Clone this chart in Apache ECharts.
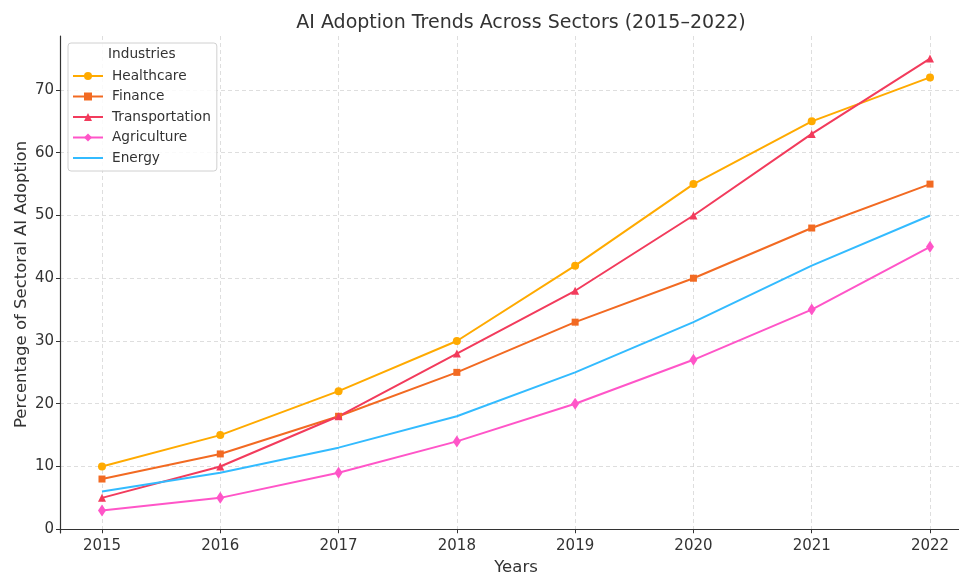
<!DOCTYPE html>
<html>
<head>
<meta charset="utf-8">
<script src="https://cdn.jsdelivr.net/npm/echarts@6/dist/echarts.min.js"></script>
<style>html,body{margin:0;padding:0;background:#fff;overflow:hidden;width:959px;height:574px;}#c{width:959px;height:574px;overflow:hidden;}</style>
</head>
<body>
<div id="c"></div>
<script>
var years = [2015, 2016, 2017, 2018, 2019, 2020, 2021, 2022];
var healthcare = [10, 15, 22, 30, 42, 55, 65, 72];
var finance = [8, 12, 18, 25, 33, 40, 48, 55];
var transportation = [5, 10, 18, 28, 38, 50, 63, 75];
var agriculture = [3, 5, 9, 14, 20, 27, 35, 45];
var energy = [6, 9, 13, 18, 25, 33, 42, 50];
var yTicks = [0, 10, 20, 30, 40, 50, 60, 70];

var FONT = 'DejaVu Sans';
var thinDiamond = 'path://M0,-10 L6,0 L0,10 L-6,0 Z';

function pairs(vals) { return years.map(function (y, i) { return [y, vals[i]]; }); }
function mk(name, vals, color, symbol, size) {
  return {
    name: name, type: 'line', data: pairs(vals),
    symbol: symbol, symbolSize: size, showSymbol: symbol !== 'none',
    lineStyle: { color: color, width: 2 },
    itemStyle: { color: color },
    emphasis: { disabled: true },
    animation: false, z: 3
  };
}

var chart = echarts.init(document.getElementById('c'), null, { renderer: 'canvas', width: 959, height: 574 });
chart.setOption({
  animation: false,
  textStyle: { fontFamily: FONT },
  title: {
    text: 'AI Adoption Trends Across Sectors (2015\u20132022)',
    left: 516, top: 9, textAlign: 'center',
    textStyle: { fontFamily: FONT, fontSize: 19, fontWeight: 'normal', color: '#333' }
  },
  grid: { left: 60, top: 36, width: 912, bottom: 41, containLabel: false, outerBoundsMode: 'none' },
  xAxis: {
    type: 'value', min: 2014.645, max: 2022.355,
    name: 'Years', nameLocation: 'middle', nameGap: 26,
    nameTextStyle: { fontFamily: FONT, fontSize: 16.5, color: '#333' },
    axisLine: { show: true, lineStyle: { color: '#333', width: 1.2 } },
    axisTick: { show: true, length: 4, inside: false, customValues: years, lineStyle: { color: '#333' } },
    axisLabel: { customValues: years, fontFamily: FONT, fontSize: 15, color: '#333', margin: 6,
      formatter: function (v) { return String(Math.round(v)); } },
    splitLine: { show: true, lineStyle: { color: '#d5d5d5', type: [4, 3], width: 0.8 } }
  },
  yAxis: {
    type: 'value', min: -0.6, max: 78.6,
    name: 'Percentage of Sectoral AI Adoption', nameLocation: 'middle', nameGap: 30,
    nameMoveOverlap: false,
    nameTextStyle: { fontFamily: FONT, fontSize: 16.5, color: '#333' },
    axisLine: { show: true, lineStyle: { color: '#333', width: 1.2 } },
    axisTick: { show: true, length: 4, customValues: yTicks, lineStyle: { color: '#333' } },
    axisLabel: { customValues: yTicks, fontFamily: FONT, fontSize: 15, color: '#333', margin: 6 },
    splitLine: { show: true, lineStyle: { color: '#d5d5d5', type: [4, 3], width: 0.8 } }
  },
  legend: {
    orient: 'vertical', left: 68, top: 43,
    padding: [26, 6, 6, 4],
    backgroundColor: 'rgba(255,255,255,0.85)',
    borderColor: '#d0d0d0', borderWidth: 1, borderRadius: 3,
    itemWidth: 30, itemHeight: 10, itemGap: 6.5,
    textStyle: { fontFamily: FONT, fontSize: 13.7, color: '#333', padding: [0, 0, 0, 4] },
    data: ['Healthcare', 'Finance', 'Transportation', 'Agriculture',
      { name: 'Energy', itemStyle: { opacity: 0 } }]
  },
  graphic: [{
    type: 'text', left: 108, top: 47, z: 100,
    style: { text: 'Industries', font: '13.7px "DejaVu Sans"', fill: '#333' }
  }],
  series: [
    mk('Healthcare', healthcare, '#FFAA00', 'circle', 8),
    mk('Finance', finance, '#F26A22', 'rect', 7),
    mk('Transportation', transportation, '#F23B5C', 'triangle', 8),
    mk('Agriculture', agriculture, '#FF55C8', thinDiamond, [8, 12]),
    mk('Energy', energy, '#33BBFF', 'none', 0)
  ]
});
</script>
</body>
</html>
